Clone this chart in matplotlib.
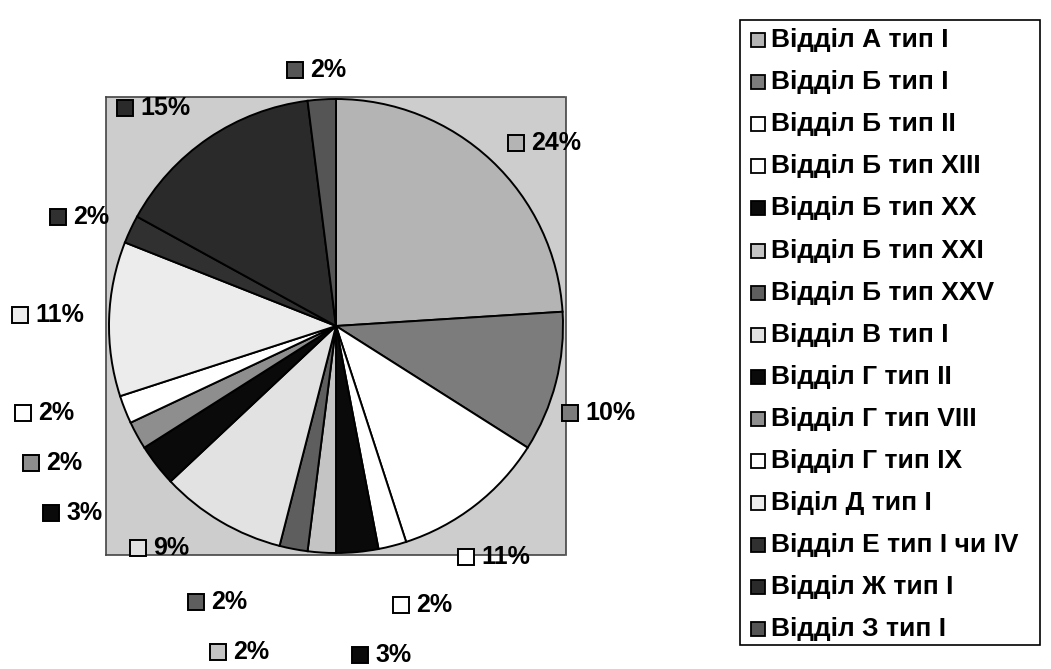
import matplotlib
matplotlib.use("Agg")
import matplotlib.pyplot as plt
from matplotlib.patches import Rectangle

categories = ["Відділ А тип І", "Відділ Б тип І", "Відділ Б тип ІІ", "Відділ Б тип XIII",
              "Відділ Б тип XX", "Відділ Б тип XXI", "Відділ Б тип XXV", "Відділ В тип І",
              "Відділ Г тип ІІ", "Відділ Г тип VIII", "Відділ Г тип IX", "Віділ Д тип І",
              "Відділ Е тип І чи IV", "Відділ Ж тип І", "Відділ З тип І"]
values = [24, 10, 11, 2, 3, 2, 2, 9, 3, 2, 2, 11, 2, 15, 2]
colors = ["#b4b4b4", "#7c7c7c", "#ffffff", "#ffffff", "#0a0a0a", "#c4c4c4", "#5e5e5e",
          "#e2e2e2", "#0a0a0a", "#8e8e8e", "#ffffff", "#ececec", "#303030", "#2a2a2a", "#555555"]

# label layout (pixel positions of the key square: left x / centre y)
label_pos = [(508, 143), (562, 413), (458, 557), (393, 605), (352, 655), (210, 652),
             (188, 602), (130, 548), (43, 513), (23, 463), (15, 413), (12, 315),
             (50, 217), (117, 108), (287, 70)]

W, H = 1051, 669
plt.rcParams['font.family'] = ['Liberation Sans', 'DejaVu Sans']
fig = plt.figure(figsize=(W / 100, H / 100), dpi=100)
fig.patch.set_facecolor("white")

def fx(x):
    return x / W

def fy(y):
    return 1 - y / H

# plot area
pl, pt, pr, pb = 106, 97, 566, 555
cx, cy, r_px = 336, 326, 227
ax = fig.add_axes([fx(pl), fy(pb), (pr - pl) / W, (pb - pt) / H])
ax.set_facecolor("#cdcdcd")
wedges, _ = ax.pie(values, colors=colors, startangle=90, counterclock=False,
                   wedgeprops=dict(edgecolor="black", linewidth=1.4))
ax.set_xlim((pl - cx) / r_px, (pr - cx) / r_px)
ax.set_ylim((cy - pb) / r_px, (cy - pt) / r_px)
ax.set_aspect("auto")
ax.set_frame_on(True)
for s in ax.spines.values():
    s.set_linestyle((0, (1, 1)))
    s.set_linewidth(1.2)
    s.set_color("#444444")
ax.set_xticks([])
ax.set_yticks([])

# data labels
sq = 16
for v, c, (x, y) in zip(values, colors, label_pos):
    fig.patches.append(Rectangle((fx(x), fy(y + sq / 2)), sq / W, sq / H,
                                 transform=fig.transFigure, facecolor=c,
                                 edgecolor="black", linewidth=1.4))
    fig.text(fx(x + sq + 7), fy(y), f"{v}%", fontsize=18, fontweight="bold",
             va="center", ha="left", color="black")

# legend box
ll, lt, lr, lb = 740, 20, 1040, 645
fig.patches.append(Rectangle((fx(ll), fy(lb)), (lr - ll) / W, (lb - lt) / H,
                             transform=fig.transFigure, facecolor="white",
                             edgecolor="black", linewidth=1.2))
y0, dy = 40, 42.1
for i, (name, c) in enumerate(zip(categories, colors)):
    y = y0 + i * dy
    fig.patches.append(Rectangle((fx(751), fy(y + 7)), 14 / W, 14 / H,
                                 transform=fig.transFigure, facecolor=c,
                                 edgecolor="black", linewidth=1.3))
    fig.text(fx(771), fy(y), name, fontsize=19, fontweight="bold",
             va="center", ha="left", color="black")

fig.savefig("out.png", dpi=100)
